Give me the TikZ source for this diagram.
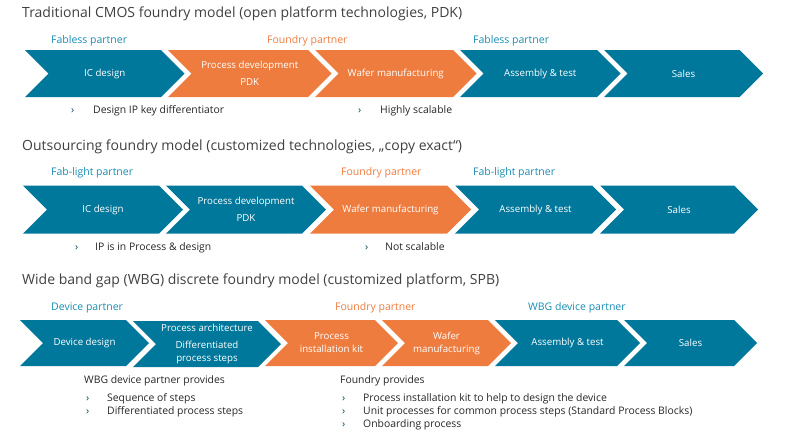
\documentclass[tikz,border=0pt]{standalone}
\usepackage{fontspec}
\setmainfont{Open Sans}
\definecolor{stepblue}{RGB}{0,120,155}
\definecolor{steporange}{RGB}{238,124,62}
\definecolor{partnerblue}{RGB}{24,140,178}
\definecolor{titlegray}{RGB}{64,64,64}
\tikzset{
  step-blue/.style={fill=stepblue},
  step-orange/.style={fill=steporange},
  step-text/.style={
    text=white,
    font=\fontsize{9.7}{13}\selectfont,
    align=center,
    inner sep=0pt
  },
  title-text/.style={anchor=west, inner sep=0pt, text=titlegray, font=\fontsize{14}{16}\selectfont,
    text height=0.72em, text depth=0.24em},
  partner-blue/.style={anchor=west, inner sep=0pt, text=partnerblue, font=\fontsize{10.5}{12}\selectfont,
    text height=0.72em, text depth=0.24em},
  partner-orange/.style={partner-blue, text=steporange},
  note-text/.style={anchor=west, inner sep=0pt, text=black!85, font=\fontsize{10.4}{12}\selectfont,
    text height=0.72em, text depth=0.24em},
  note-mark/.style={note-text, text=stepblue!55!black}
}
% chevron: name, left, tip, middle y, style, text
\newcommand{\chevron}[6]{
  \fill[#5] (#2,#4-\chh) -- (#3-\chh,#4-\chh) -- (#3,#4) -- (#3-\chh,#4+\chh)
    -- (#2,#4+\chh) -- (#2+\chh,#4) -- cycle;
  \node[step-text] (#1) at ({(#2+#3)/2},#4) {#6};
}

\begin{document}
\begin{tikzpicture}[x=1pt, y=-1pt]
  \useasboundingbox (0,0) rectangle (800,437);

  % Traditional CMOS
  \node[title-text] (title1) at (22,15) {Traditional CMOS foundry model (open platform technologies, PDK)};
  \node[partner-blue]   (fabless1a) at (51,41)  {Fabless partner};
  \node[partner-orange] (foundry1)  at (267,41) {Foundry partner};
  \node[partner-blue]   (fabless1b) at (473,41) {Fabless partner};
  \def\chh{23.5}
  \chevron{ic1}{25}{184.5}{73.5}{step-blue}{IC design}
  \chevron{proc1}{168}{331.5}{73.5}{step-orange}{Process development\\[4pt]PDK}
  \chevron{wafer1}{315}{476.5}{73.5}{step-orange}{Wafer manufacturing}
  \chevron{assy1}{460}{620.5}{73.5}{step-blue}{Assembly \& test}
  \chevron{sales1}{604}{763}{73.5}{step-blue}{Sales}
  \node[note-mark] (m1a) at (71,111)  {›};
  \node[note-text] (n1a) at (93,111)  {Design IP key differentiator};
  \node[note-mark] (m1b) at (358,111) {›};
  \node[note-text] (n1b) at (380,111) {Highly scalable};

  % Outsourcing
  \node[title-text] (title2) at (22,148) {Outsourcing foundry model (customized technologies, „copy exact“)};
  \node[partner-blue]   (fablight2a) at (51,173)  {Fab-light partner};
  \node[partner-orange] (foundry2)   at (341,173) {Foundry partner};
  \node[partner-blue]   (fablight2b) at (473,173) {Fab-light partner};
  \def\chh{24}
  \chevron{ic2}{23}{183}{209.5}{step-blue}{IC design}
  \chevron{proc2}{166}{326}{209.5}{step-blue}{Process development\\[4pt]PDK}
  \chevron{wafer2}{310}{471}{209.5}{step-orange}{Wafer manufacturing}
  \chevron{assy2}{455}{616}{209.5}{step-blue}{Assembly \& test}
  \chevron{sales2}{600}{758}{209.5}{step-blue}{Sales}
  \node[note-mark] (m2a) at (75,248)  {›};
  \node[note-text] (n2a) at (95,248)  {IP is in Process \& design};
  \node[note-mark] (m2b) at (365,248) {›};
  \node[note-text] (n2b) at (385,248) {Not scalable};

  % Wide band gap
  \node[title-text] (title3) at (22,282) {Wide band gap (WBG) discrete foundry model (customized platform, SPB)};
  \node[partner-blue]   (device3)  at (51,308)  {Device partner};
  \node[partner-orange] (foundry3) at (335,308) {Foundry partner};
  \node[partner-blue]   (wbg3)     at (528,308) {WBG device partner};
  \def\chh{23}
  \chevron{dev3}{20}{149}{343}{step-blue}{Device design}
  \chevron{arch3}{133}{281}{344}{step-blue}{Process architecture\\[4pt]Differentiated\\process steps}
  \chevron{kit3}{265}{398}{343}{step-orange}{Process\\installation kit}
  \chevron{wafer3}{382}{511}{343}{step-orange}{Wafer\\manufacturing}
  \chevron{assy3}{495}{640}{343}{step-blue}{Assembly \& test}
  \chevron{sales3}{624}{757}{343}{step-blue}{Sales}
  \node[note-text] (head3a) at (84,381)  {WBG device partner provides};
  \node[note-mark] (m3a)    at (86,399)  {›};
  \node[note-text] (n3a)    at (107,399) {Sequence of steps};
  \node[note-mark] (m3b)    at (86,412)  {›};
  \node[note-text] (n3b)    at (107,412) {Differentiated process steps};
  \node[note-text] (head3b) at (340,381) {Foundry provides};
  \node[note-mark] (m3c)    at (342,399) {›};
  \node[note-text] (n3c)    at (363,399) {Process installation kit to help to design the device};
  \node[note-mark] (m3d)    at (342,412) {›};
  \node[note-text] (n3d)    at (363,412) {Unit processes for common process steps (Standard Process Blocks)};
  \node[note-mark] (m3e)    at (342,425) {›};
  \node[note-text] (n3e)    at (363,425) {Onboarding process};
\end{tikzpicture}
\end{document}
